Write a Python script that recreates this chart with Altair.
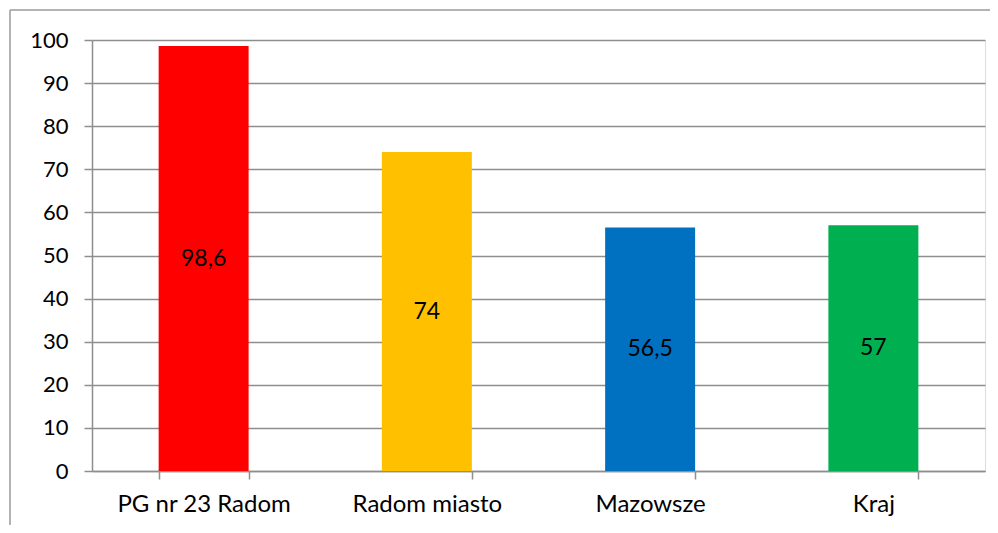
import altair as alt
import pandas as pd

categories = ["PG nr 23 Radom", "Radom miasto", "Mazowsze", "Kraj"]
values = [98.6, 74, 56.5, 57]
labels = ["98,6", "74", "56,5", "57"]
colors = ["#FF0000", "#FFC000", "#0070C0", "#00B050"]
y_ticks = list(range(0, 101, 10))

df = pd.DataFrame({"cat": categories, "val": values, "lab": labels})

FONT = "Lato"
GRID = "#8e8e8e"

xenc = alt.X(
    "cat:N",
    sort=categories,
    scale=alt.Scale(paddingInner=0.597, paddingOuter=0.2985),
    axis=alt.Axis(
        title=None, labelAngle=0, tickBand="extent", tickOffset=-66.6, labelFont=FONT, labelFontSize=24,
        labelColor="#000000", labelPadding=13, tickSize=8, tickColor=GRID, domainColor=GRID,
        tickWidth=1.5, domainWidth=1.5, grid=False,
    ),
)

bars = alt.Chart(df).mark_bar().encode(
    x=xenc,
    y=alt.Y(
        "val:Q",
        scale=alt.Scale(domain=[0, 100], nice=False),
        axis=alt.Axis(
            title=None, values=y_ticks, labelFont=FONT, labelFontSize=22, labelColor="#000000",
            labelPadding=16, tickSize=8, tickColor=GRID, domainColor=GRID, gridColor=GRID,
            tickWidth=1.5, domainWidth=1.5, gridWidth=1.5,
        ),
    ),
    color=alt.Color("cat:N", scale=alt.Scale(domain=categories, range=colors), legend=None),
)

text = alt.Chart(df).transform_calculate(mid="datum.val / 2").mark_text(
    font=FONT, fontSize=23, color="#000000", baseline="middle", align="center"
).encode(
    x=alt.X("cat:N", sort=categories),
    y=alt.Y("mid:Q"),
    text="lab:N",
)

frame_top = alt.Chart(alt.Data(values=[{}])).mark_rule(color="#9a9a9a", strokeWidth=1.5).encode(
    x=alt.value(-82), x2=alt.value(1000), y=alt.value(-30)
)
frame_left = alt.Chart(alt.Data(values=[{}])).mark_rule(color="#9a9a9a", strokeWidth=1.5).encode(
    x=alt.value(-82), y=alt.value(-30), y2=alt.value(600)
)

chart = alt.layer(bars, text, frame_top, frame_left).properties(
    width=893, height=431,
    autosize=alt.AutoSizeParams(type="none"),
    padding={"left": 84, "top": 32, "right": 5, "bottom": 54},
).configure_view(stroke=None).configure(background="#ffffff")

chart.save("out.html", embed_options={"renderer": "svg", "actions": False})
